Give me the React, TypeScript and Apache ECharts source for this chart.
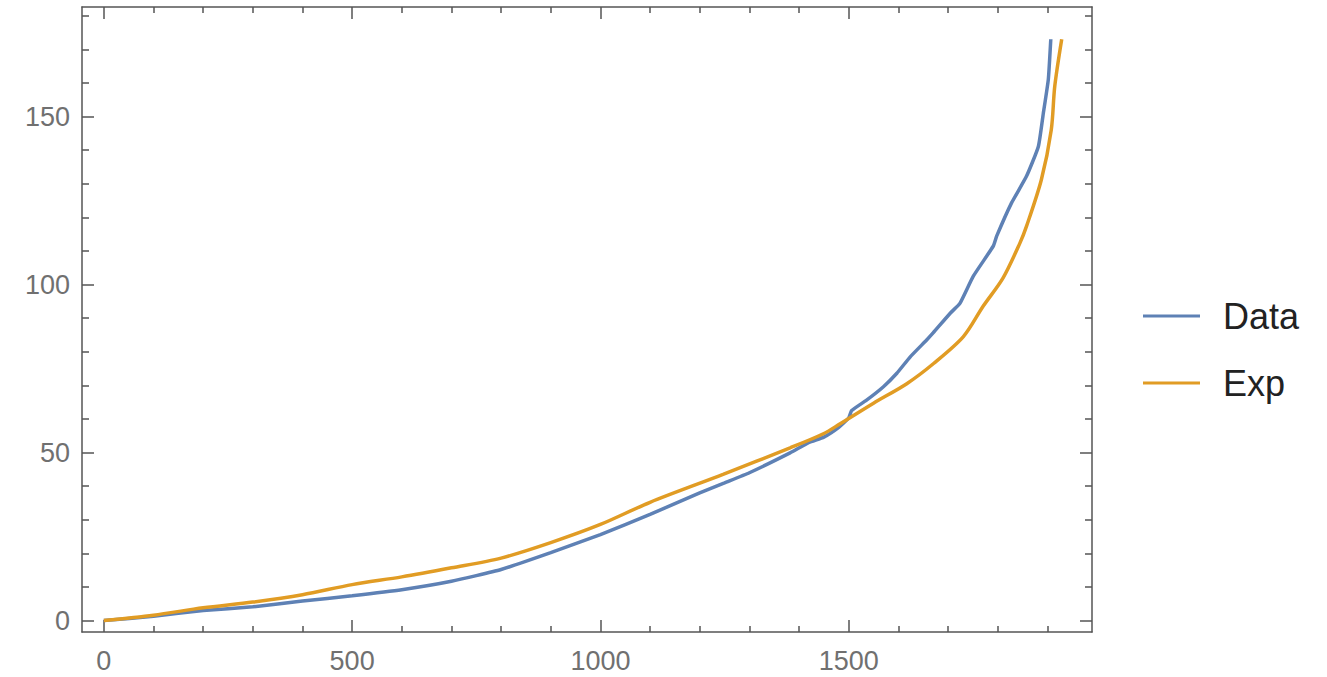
import React, { useEffect, useRef } from "react";
import * as echarts from "echarts";

const dataX = [0, 100, 200, 300, 400, 500, 600, 700, 800, 900, 1000, 1100, 1200, 1250, 1300, 1382, 1420, 1450, 1480, 1500, 1506, 1536, 1570, 1597, 1624, 1657, 1670, 1704, 1724, 1751, 1791, 1798, 1828, 1858, 1882, 1892, 1902, 1907];
const dataY = [0, 1.3, 3.0, 4.1, 5.8, 7.4, 9.2, 11.7, 15.2, 20.2, 25.6, 31.6, 38.0, 41.0, 44.0, 49.9, 53.0, 54.6, 57.5, 60.3, 62.5, 65.6, 69.6, 73.6, 78.5, 83.5, 85.6, 91.4, 94.4, 102.5, 111.4, 114.4, 124.3, 132.2, 141.1, 151, 161, 173];

const expX = [0, 100, 200, 300, 400, 500, 600, 700, 800, 900, 1000, 1100, 1247, 1382, 1449, 1482, 1550, 1617, 1671, 1731, 1771, 1811, 1845, 1858, 1888, 1908, 1915, 1929];
const expY = [0, 1.6, 3.8, 5.5, 7.7, 10.7, 13.0, 15.7, 18.6, 23.2, 28.6, 35.2, 43.5, 51.4, 55.6, 58.5, 64.7, 70.5, 76.5, 84.5, 93.6, 102, 112.4, 117.3, 131.2, 146.1, 159, 173];

const xMajor = [0, 500, 1000, 1500];
const xMinor = [100, 200, 300, 400, 600, 700, 800, 900, 1100, 1200, 1300, 1400, 1600, 1700, 1800, 1900];
const yMajor = [0, 50, 100, 150];
const yMinor = [10, 20, 30, 40, 60, 70, 80, 90, 110, 120, 130, 140, 160, 170, 180];

const seriesNames = ["Data", "Exp"];
const seriesColors = ["#5E81B5", "#E19C24"];

const X_MIN = -44;
const X_MAX = 1990;
const Y_MIN = -3.4;
const Y_MAX = 182.6;

const FRAME = "#555555";
const LABEL = "#707070";

export default function App() {
  const ref = useRef<HTMLDivElement>(null);
  useEffect(() => {
    if (!ref.current) return;
    const chart = echarts.init(ref.current, undefined, { renderer: "svg" });

    const fmt = (v: number) => String(v);

    const xAxisBase = (position: string, ticks: number[], len: number, showLine: boolean, labels: boolean) => ({
      type: "value",
      position,
      min: X_MIN,
      max: X_MAX,
      splitLine: { show: false },
      axisLine: { show: showLine, onZero: false, lineStyle: { color: FRAME, width: 1.5 } },
      axisTick: {
        show: true,
        inside: true,
        length: len,
        customValues: ticks,
        lineStyle: { color: FRAME, width: 1.5 },
      },
      axisLabel: labels
        ? {
            show: true,
            customValues: ticks,
            formatter: fmt,
            margin: 15,
            fontSize: 27,
            color: LABEL,
            fontFamily: "Liberation Sans, Arial, sans-serif",
          }
        : { show: false },
    });

    const yAxisBase = (position: string, ticks: number[], len: number, showLine: boolean, labels: boolean) => ({
      type: "value",
      position,
      min: Y_MIN,
      max: Y_MAX,
      splitLine: { show: false },
      axisLine: { show: showLine, onZero: false, lineStyle: { color: FRAME, width: 1.5 } },
      axisTick: {
        show: true,
        inside: true,
        length: len,
        customValues: ticks,
        lineStyle: { color: FRAME, width: 1.5 },
      },
      axisLabel: labels
        ? {
            show: true,
            customValues: ticks,
            formatter: fmt,
            margin: 12,
            fontSize: 27,
            color: LABEL,
            fontFamily: "Liberation Sans, Arial, sans-serif",
          }
        : { show: false },
    });

    const option = {
      animation: false,
      backgroundColor: "#ffffff",
      grid: { left: 82, right: 235, top: 7, bottom: 45, containLabel: false },
      legend: {
        orient: "vertical",
        left: 1138,
        top: 291,
        itemWidth: 57,
        itemHeight: 3,
        itemGap: 27,
        icon: "rect",
        data: seriesNames,
        textStyle: {
          fontSize: 36,
          lineHeight: 40,
          color: "#222222",
          fontFamily: "Liberation Sans, Arial, sans-serif",
          padding: [0, 0, 0, 18],
        },
      },
      xAxis: [
        xAxisBase("bottom", xMajor, 12, true, true),
        xAxisBase("bottom", xMinor, 6, false, false),
        xAxisBase("top", xMajor, 12, true, false),
        xAxisBase("top", xMinor, 6, false, false),
      ],
      yAxis: [
        yAxisBase("left", yMajor, 12, true, true),
        yAxisBase("left", yMinor, 7, false, false),
        yAxisBase("right", yMajor, 12, true, false),
        yAxisBase("right", yMinor, 7, false, false),
      ],
      series: [
        {
          name: seriesNames[0],
          type: "line",
          xAxisIndex: 0,
          yAxisIndex: 0,
          showSymbol: false,
          symbol: "none",
          smooth: 0.15,
          color: seriesColors[0],
          lineStyle: { width: 3.5, color: seriesColors[0] },
          data: dataX.map((x, i) => [x, dataY[i]]),
        },
        {
          name: seriesNames[1],
          type: "line",
          xAxisIndex: 0,
          yAxisIndex: 0,
          showSymbol: false,
          symbol: "none",
          smooth: 0.3,
          color: seriesColors[1],
          lineStyle: { width: 3.5, color: seriesColors[1] },
          data: expX.map((x, i) => [x, expY[i]]),
        },
      ],
    };
    chart.setOption(option as any);
    return () => chart.dispose();
  }, []);

  return (
    <div
      ref={ref}
      style={{ position: "absolute", left: 0, top: 0, width: 1327, height: 677, background: "#fff" }}
    />
  );
}
